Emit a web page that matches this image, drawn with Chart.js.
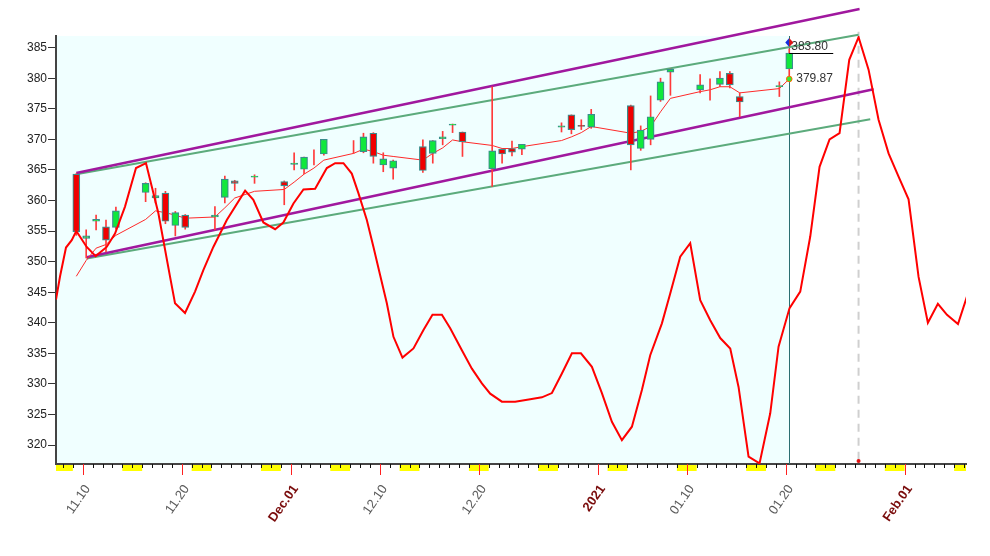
<!DOCTYPE html>
<html><head><meta charset="utf-8">
<script src="https://cdn.jsdelivr.net/npm/chart.js@4.4.1/dist/chart.umd.min.js"></script>
<style>html,body{margin:0;padding:0;background:#fff;}canvas{display:block;}</style>
</head><body>
<canvas id="c" width="990" height="556"></canvas>
<script>
// ---------------- DATA ----------------
const baseDate = '2020-11-07';           // start of the time axis (day 0)
const axisStartDay = 0.30;
const axisEndDay = 92.2;

const candleDates = ['2020-11-09','2020-11-10','2020-11-11','2020-11-12','2020-11-13','2020-11-16','2020-11-17','2020-11-18','2020-11-19','2020-11-20','2020-11-23','2020-11-24','2020-11-25','2020-11-27','2020-11-30',
  '2020-12-01','2020-12-02','2020-12-03','2020-12-04','2020-12-07','2020-12-08','2020-12-09','2020-12-10','2020-12-11','2020-12-14','2020-12-15','2020-12-16','2020-12-17','2020-12-18','2020-12-21','2020-12-22','2020-12-23','2020-12-24','2020-12-28','2020-12-29','2020-12-30','2020-12-31',
  '2021-01-04','2021-01-05','2021-01-06','2021-01-07','2021-01-08','2021-01-11','2021-01-12','2021-01-13','2021-01-14','2021-01-15','2021-01-19','2021-01-20'];
const opens  = [364.3,353.8,356.6,355.7,355.6,361.3,360.4,361.2,355.9,357.6,357.3,360.5,363.2,363.8,363.1,
  365.9,365.1,366.7,367.6,369.05,368.0,371.0,365.8,365.3,368.8,367.7,370.1,372.3,371.2,365.2,368.4,368.5,368.4,372.0,374.0,372.3,372.0,
  375.5,368.5,370.0,376.4,381.0,378.1,378.8,379.0,380.8,377.0,378.6,381.5];
const highs  = [364.4,355.2,357.6,356.8,358.9,362.9,362.0,361.5,358.2,357.7,359.0,364.0,363.3,364.2,363.2,
  367.8,367.1,368.3,370.0,369.8,371.0,371.1,367.8,366.6,369.9,369.8,371.3,372.5,371.2,378.6,368.4,369.7,369.2,372.7,374.0,373.2,374.9,
  375.6,372.2,377.1,380.0,381.5,380.6,379.9,381.1,381.1,377.6,379.4,384.8];
const lows   = [354.3,350.6,355.2,351.6,355.3,359.8,359.6,356.2,354.2,355.3,355.2,359.6,361.6,362.8,359.3,
  365.0,364.4,365.8,367.4,367.7,367.8,366.1,364.7,363.5,364.6,366.1,369.1,371.1,367.2,362.3,366.1,367.3,367.5,371.2,370.9,371.6,371.8,
  365.0,368.2,369.1,376.2,377.2,377.6,376.4,378.6,378.4,373.7,377.0,380.3];
const closes = [354.9,354.2,356.9,353.5,358.3,362.8,360.8,356.6,358.0,355.6,357.6,363.5,362.8,364.0,362.4,
  366.1,367.1,366.7,370.0,369.05,370.4,367.2,366.8,366.5,364.9,369.8,370.4,372.5,369.6,368.1,367.6,367.9,369.2,372.2,371.6,372.1,374.1,
  369.1,371.5,373.7,379.4,381.5,378.9,378.8,380.0,378.9,376.1,378.8,384.1];
const avgLine = [347.6,350.2,352.2,352.8,354.3,356.9,358.3,358.0,357.6,357.1,357.3,358.8,360.4,361.5,361.8,
  363.0,364.3,365.3,366.6,367.7,368.4,368.0,367.4,367.2,366.6,367.7,368.6,369.9,369.6,369.0,368.5,368.5,368.8,369.8,370.4,371.1,372.1,
  371.0,371.3,372.1,374.5,376.7,377.8,378.1,378.6,378.6,377.6,378.3,379.87];

const cycleDays = [0.30,0.71,1.31,1.89,2.35,3.40,4.31,5.42,6.26,7.27,8.38,9.39,9.97,10.64,11.14,11.82,12.32,13.33,14.34,15.18,16.19,17.55,19.40,20.23,21.24,22.43,23.26,24.28,25.29,26.47,27.65,28.49,29.33,30.17,30.84,31.69,32.36,33.03,33.71,34.38,35.29,36.40,37.41,38.32,39.27,40.11,41.29,42.30,43.31,44.15,45.33,46.67,48.19,49.37,50.38,51.39,52.40,53.31,54.42,55.43,56.44,57.45,58.46,59.47,60.31,61.49,62.33,63.34,64.35,65.36,66.37,67.38,68.39,69.23,70.24,71.35,72.43,73.27,74.38,75.46,76.47,77.41,78.42,79.43,80.41,81.35,82.36,83.37,84.38,85.39,86.40,87.41,88.35,89.36,90.28,91.39,92.30];
const cycleVals = [343.8,347.6,352.3,353.5,355.0,352.4,350.9,352.4,354.6,359.0,365.3,366.1,362.3,357.9,353.5,347.5,343.2,341.6,345.1,348.6,352.4,356.8,361.6,360.1,356.4,355.3,356.4,359.5,361.8,361.9,365.3,366.1,366.1,364.4,361.2,356.8,352.4,347.8,343.2,337.7,334.3,335.8,338.8,341.3,341.3,339.1,335.5,332.5,330.1,328.4,327.1,327.1,327.5,327.8,328.5,331.7,335.0,335.0,332.8,328.5,323.8,320.8,323.0,329.0,334.7,339.9,344.8,350.8,353.0,343.7,340.4,337.5,335.8,329.5,318.1,317.0,325.2,336.1,342.4,345.1,354.1,365.5,370.0,371.0,383.0,386.7,381.4,373.2,367.7,363.9,360.2,347.5,340.0,343.1,341.3,339.8,344.3];

// trend channel end points [day, value]
const upperPurple = [[2.35,364.5],[81.45,391.3]];
const upperGreen  = [[2.35,364.3],[81.35,387.1]];
const lowerPurple = [[3.40,350.7],[82.87,378.2]];
const lowerGreen  = [[3.40,350.5],[82.53,373.3]];

const tickDates  = ['2020-11-10','2020-11-20','2020-12-01','2020-12-10','2020-12-20','2021-01-01','2021-01-10','2021-01-20','2021-02-01'];
const tickLabels = ['11.10','11.20','Dec.01','12.10','12.20','2021','01.10','01.20','Feb.01'];
const tickIsMonth = [false,false,true,false,false,true,false,false,true];

const yTickValues = [320,325,330,335,340,345,350,355,360,365,370,375,380,385];
const markerDay = 81.35;            // dashed vertical marker
const highLabel = '383.80';
const avgLabelValue = 379.87;

// ---------------- HELPERS ----------------
const CANDLE_SHIFT = 0.35;
function dayOf(s){ const [a,b,c]=s.split('-').map(Number); const [A,B,C]=baseDate.split('-').map(Number);
  return (Date.UTC(a,b-1,c)-Date.UTC(A,B-1,C))/86400000; }
const cx = candleDates.map(d => dayOf(d) + CANDLE_SHIFT);
const lastX = cx[cx.length-1];
const tickDays = tickDates.map(dayOf);

const bodies = cx.map((x,i)=>({x, y:[opens[i], closes[i]]}));
const wicks  = cx.map((x,i)=>({x, y:[lows[i], highs[i]]}));
const bodyColors = cx.map((x,i)=> closes[i] >= opens[i] ? '#10e83c' : '#f00000');
const avgPts = cx.map((x,i)=>({x, y:avgLine[i]}));
const cyclePts = cycleDays.map((d,i)=>({x:d, y:cycleVals[i]}));
const seg = a => a.map(p=>({x:p[0], y:p[1]}));

const FONT = "'Liberation Sans', Arial, sans-serif";

const decor = {
  id:'decor',
  beforeDraw(chart){
    const {ctx, chartArea:a, scales:{x}} = chart;
    ctx.save();
    ctx.fillStyle='#ffffff'; ctx.fillRect(0,0,chart.width,chart.height);
    ctx.fillStyle='#f0ffff';
    const xe = x.getPixelForValue(lastX);
    ctx.fillRect(a.left, a.top, xe-a.left, a.bottom-a.top);
    ctx.restore();
  },
  beforeDatasetsDraw(chart){
    const {ctx, chartArea:a, scales:{x,y}} = chart;
    ctx.save();
    const xl = Math.round(x.getPixelForValue(lastX))+0.5;
    ctx.strokeStyle='#2b6f72'; ctx.lineWidth=1;
    ctx.beginPath(); ctx.moveTo(xl, a.top); ctx.lineTo(xl, a.bottom); ctx.stroke();
    const xm = x.getPixelForValue(markerDay);
    ctx.strokeStyle='#cfcfcf'; ctx.lineWidth=2; ctx.setLineDash([8,6]);
    ctx.beginPath(); ctx.moveTo(xm, y.getPixelForValue(387.6)); ctx.lineTo(xm, y.getPixelForValue(317.6)); ctx.stroke();
    ctx.setLineDash([]);
    ctx.fillStyle='#e01010';
    ctx.beginPath(); ctx.arc(xm, y.getPixelForValue(317.4), 2, 0, Math.PI*2); ctx.fill();
    ctx.restore();
  },
  afterDraw(chart){
    const {ctx, chartArea:a, scales:{x,y}} = chart;
    ctx.save();
    ctx.fillStyle='#ffff00';
    for(let d=0; d<=Math.ceil(axisEndDay); d+=7){
      const l = Math.max(x.getPixelForValue(d), a.left);
      const r = Math.min(x.getPixelForValue(d+2), a.right);
      if(r>l) ctx.fillRect(l, a.bottom+1, r-l, 6);
    }
    ctx.strokeStyle='#111'; ctx.lineWidth=1;
    for(let d=Math.ceil(axisStartDay); d<=axisEndDay; d++){
      const px = Math.round(x.getPixelForValue(d))+0.5;
      if(tickDays.includes(d)){
        ctx.strokeStyle='#ff2020';
        ctx.beginPath(); ctx.moveTo(px, a.bottom); ctx.lineTo(px, a.bottom+11); ctx.stroke();
        ctx.strokeStyle='#111';
        continue;
      }
      ctx.beginPath(); ctx.moveTo(px, a.bottom); ctx.lineTo(px, a.bottom+4); ctx.stroke();
    }
    const xl = x.getPixelForValue(lastX);
    const i = cx.length-1;
    ctx.font = '12px '+FONT; ctx.fillStyle='#333'; ctx.textBaseline='middle'; ctx.textAlign='left';
    ctx.fillText(highLabel, xl+2, y.getPixelForValue(385.2));
    ctx.strokeStyle='#000'; ctx.lineWidth=1;
    const yc = Math.round(y.getPixelForValue(closes[i]))+0.5;
    ctx.beginPath(); ctx.moveTo(xl, yc); ctx.lineTo(xl+44, yc); ctx.stroke();
    const dy = y.getPixelForValue(385.85);
    ctx.fillStyle='#1530e0';
    ctx.beginPath(); ctx.moveTo(xl-4,dy); ctx.lineTo(xl,dy-4.5); ctx.lineTo(xl,dy+4.5); ctx.closePath(); ctx.fill();
    ctx.fillStyle='#e01515';
    ctx.beginPath(); ctx.moveTo(xl+4,dy); ctx.lineTo(xl,dy-4.5); ctx.lineTo(xl,dy+4.5); ctx.closePath(); ctx.fill();
    const ay = y.getPixelForValue(avgLabelValue);
    ctx.fillStyle='#33ee33'; ctx.strokeStyle='#ff6a00'; ctx.lineWidth=1;
    ctx.beginPath(); ctx.arc(xl, ay, 2.8, 0, Math.PI*2); ctx.fill(); ctx.stroke();
    ctx.fillStyle='#333';
    ctx.fillText(avgLabelValue.toFixed(2), xl+7, ay);
    ctx.restore();
  }
};

new Chart(document.getElementById('c'), {
  type:'line',
  data:{ datasets:[
    {type:'line', data:cyclePts, borderColor:'#ff0000', borderWidth:2, pointRadius:0, tension:0, order:0},
    {type:'bar', data:bodies, backgroundColor:bodyColors, borderColor:'#3a8d8d', borderWidth:1.2, borderSkipped:false, barThickness:7, grouped:false, order:1},
    {type:'bar', data:wicks, backgroundColor:'#ff3a3a', borderWidth:0, barThickness:1, grouped:false, order:2},
    {type:'line', data:avgPts, borderColor:'#ff2a2a', borderWidth:1, pointRadius:0, tension:0, order:3},
    {type:'line', data:seg(upperPurple), borderColor:'#a0189e', borderWidth:2.5, pointRadius:0, clip:false, order:4},
    {type:'line', data:seg(upperGreen), borderColor:'#5cab7c', borderWidth:2, pointRadius:0, clip:false, order:4},
    {type:'line', data:seg(lowerPurple), borderColor:'#a0189e', borderWidth:2.5, pointRadius:0, clip:false, order:4},
    {type:'line', data:seg(lowerGreen), borderColor:'#5cab7c', borderWidth:2, pointRadius:0, clip:false, order:4}
  ]},
  options:{
    responsive:false, animation:false, devicePixelRatio:1,
    layout:{padding:{top:36, right:24, left:0, bottom:0}},
    plugins:{legend:{display:false}, tooltip:{enabled:false}},
    scales:{
      x:{type:'linear', min:axisStartDay, max:axisEndDay, offset:false,
        afterBuildTicks: s => { s.ticks = tickDays.map(v=>({value:v})); },
        afterFit: s => { s.height = 92; },
        grid:{drawOnChartArea:false, drawTicks:true, tickLength:11, color:'rgba(0,0,0,0)', lineWidth:1},
        border:{display:true, color:'#444', width:2},
        ticks:{autoSkip:false, minRotation:55, maxRotation:55, padding:7, labelOffset:5,
          callback:(v,i)=>tickLabels[i],
          color: c => tickIsMonth[c.index] ? '#7a0c0c' : '#5a5a5a',
          font: c => ({family:FONT, size:13, weight: tickIsMonth[c.index] ? 'bold' : 'normal'})}
      },
      y:{type:'linear', min:316.9, max:386.9,
        afterBuildTicks: s => { s.ticks = yTickValues.map(v=>({value:v})); },
        afterFit: s => { s.width = 56; },
        grid:{drawOnChartArea:false, drawTicks:true, tickLength:8, color:'#333'},
        border:{display:true, color:'#444', width:2},
        ticks:{padding:1, color:'#222', font:{family:FONT, size:12}}
      }
    }
  },
  plugins:[decor]
});
</script>
</body></html>
